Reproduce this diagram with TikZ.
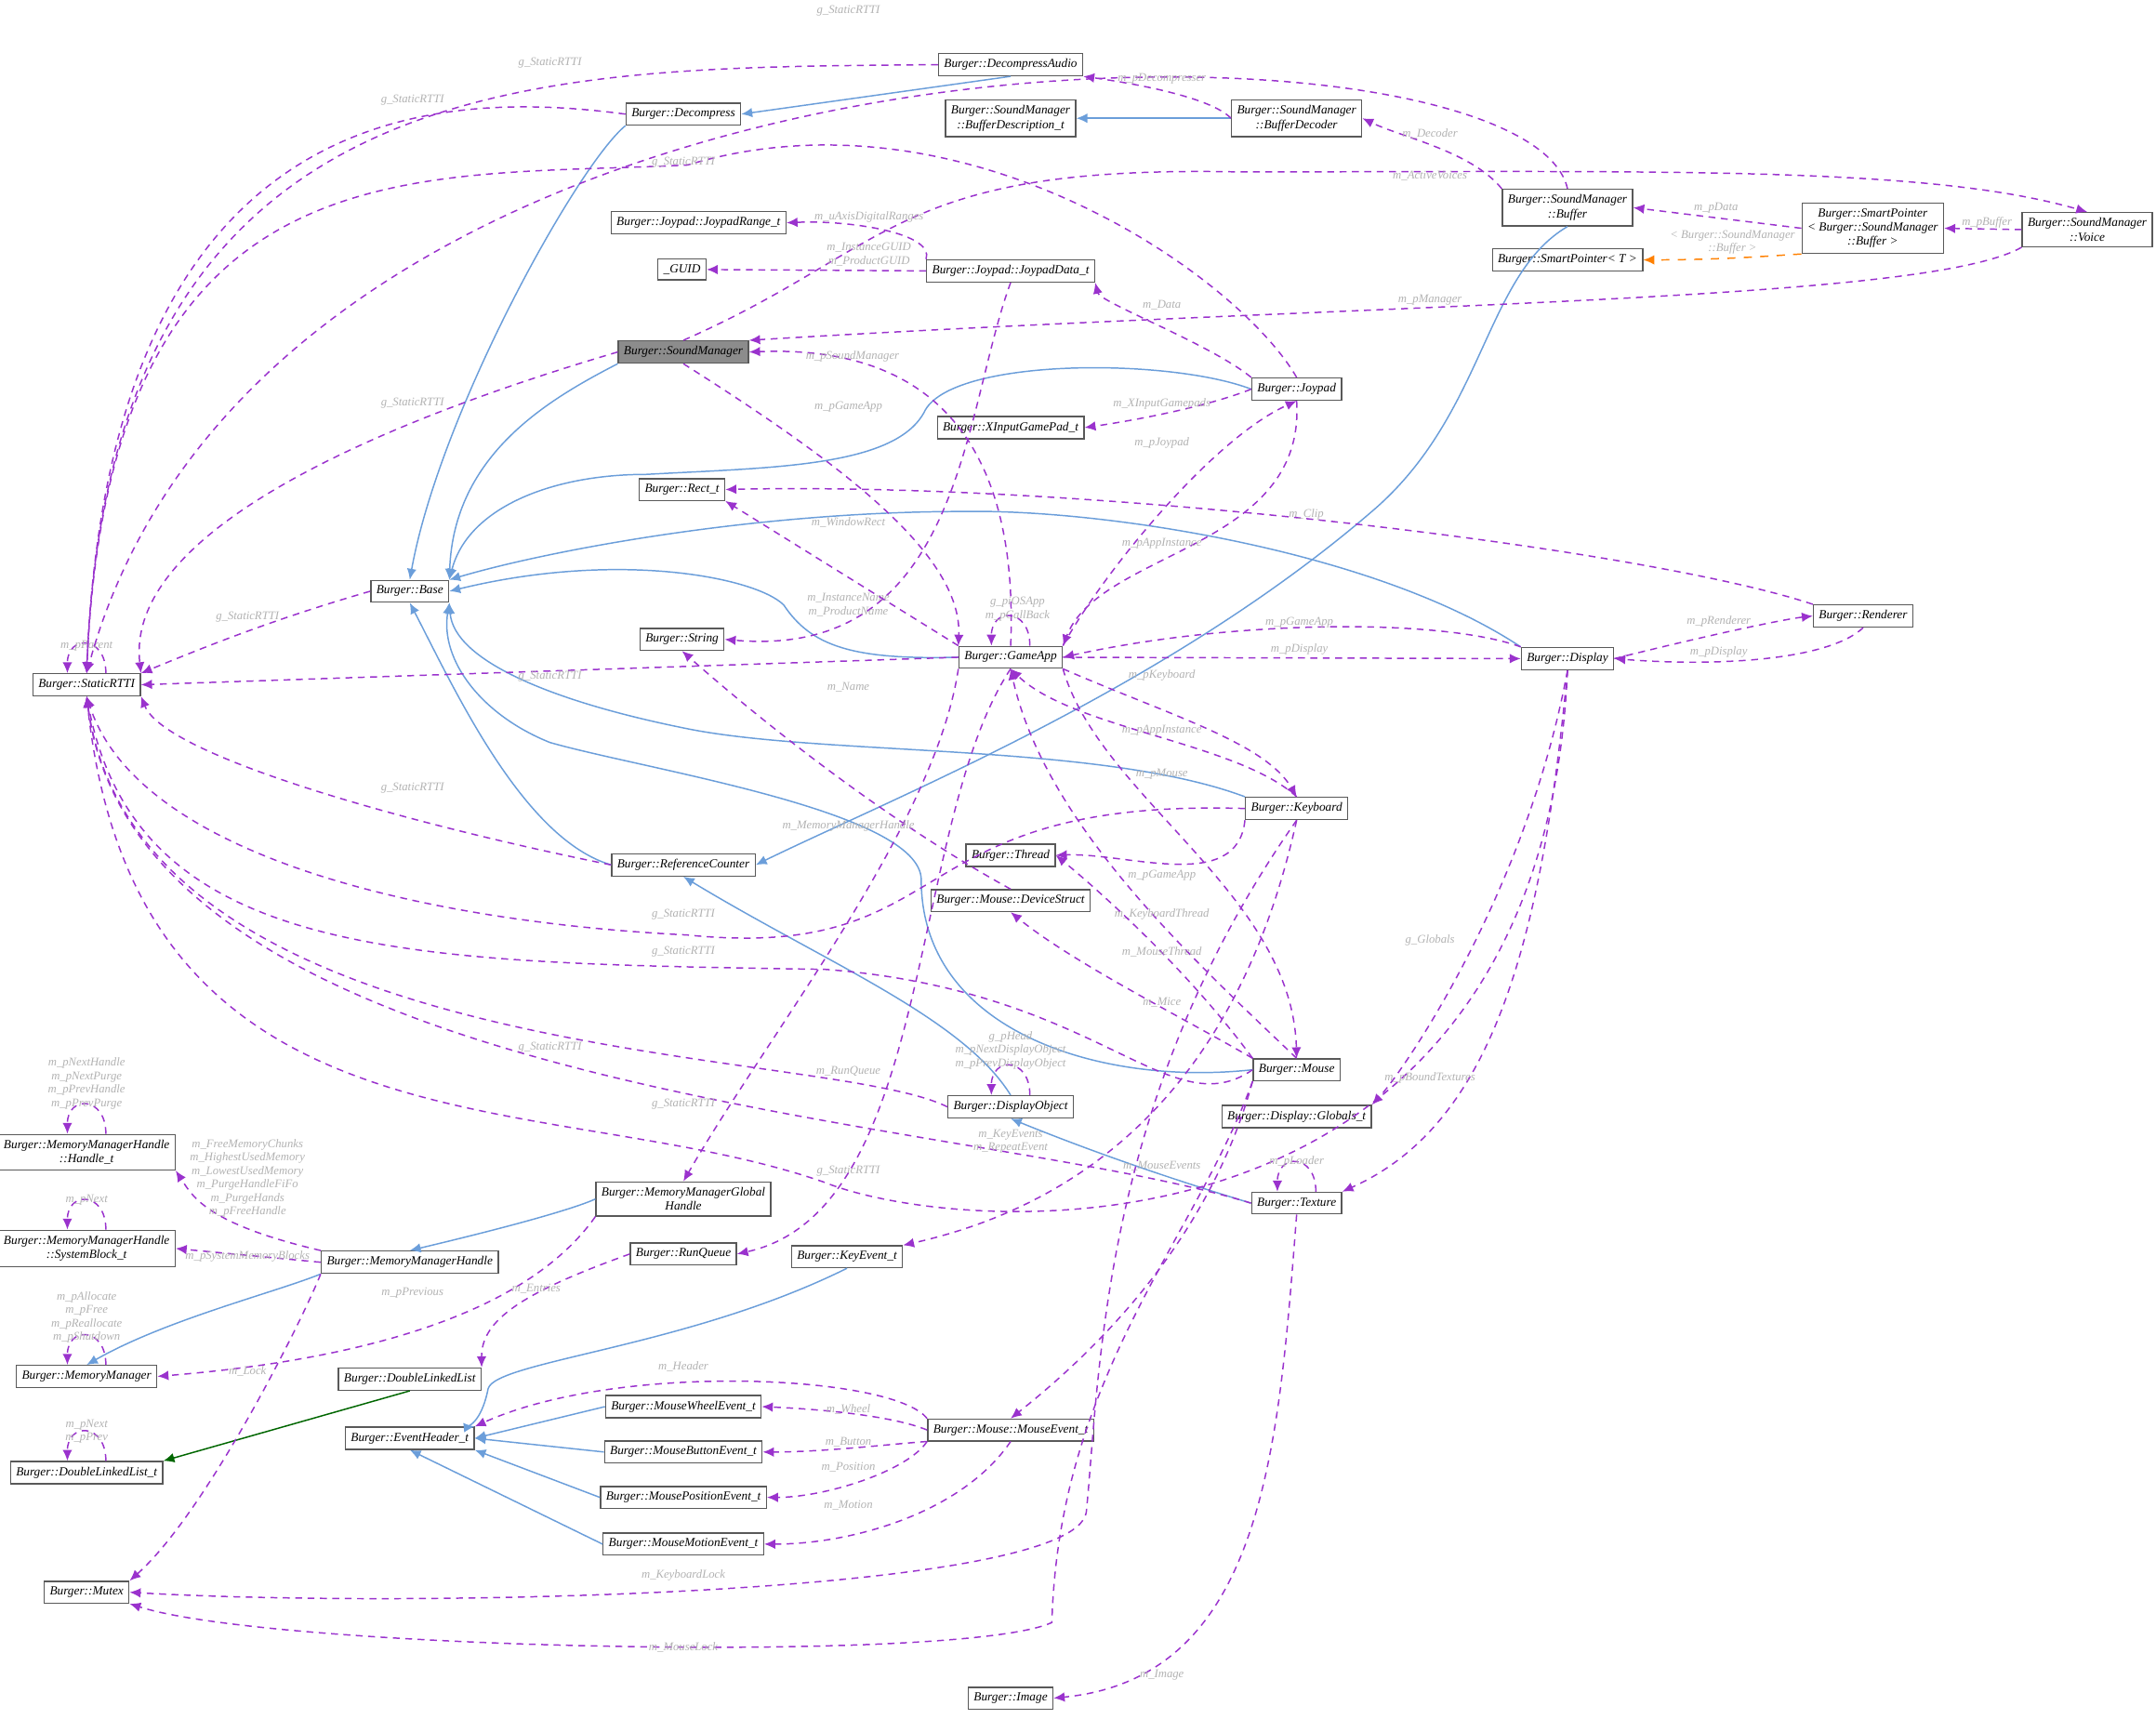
\documentclass[tikz,border=0pt]{standalone}
\usepackage{fontspec}
\setmainfont{Liberation Serif}
\usetikzlibrary{arrows.meta}
\begin{document}
\begin{tikzpicture}[x=0.5pt,y=-0.5pt,
 cls/.style={draw=black!65,line width=0.45pt,fill=white,inner sep=2pt,font=\fontsize{4.5}{5.2}\selectfont\itshape,align=center},
 dep/.style={dashed,dash pattern=on 2.5pt off 2pt,line width=0.5pt,-{Latex[length=4pt,width=3.5pt]}},
 inh/.style={draw=cyan!55!blue!60,line width=0.5pt,-{Latex[length=4pt,width=3.5pt]}},
 grn/.style={draw=green!40!black,line width=0.5pt,-{Latex[length=4pt,width=3.5pt]}},
 tmpl/.style={draw=orange,dashed,line width=0.5pt,-{Latex[length=4pt,width=3.5pt]}},
 lbl/.style={text=black!30,font=\fontsize{4.3}{4.9}\selectfont\itshape,align=center,inner sep=0pt}]
\useasboundingbox (0,0) rectangle (1568,1250);
\definecolor{vio}{HTML}{9A32CD}
\tikzset{dep/.append style={draw=vio,color=vio}}
\newcommand\selfloop[1]{\draw[dep] ([xshift=7pt]#1.north) .. controls +(0,-28) and +(0,-28) .. ([xshift=-7pt]#1.north);}
% nodes
\node[cls] (rtti) at (63,498) {Burger::StaticRTTI};
\node[cls] (dec) at (497,83) {Burger::Decompress};
\node[cls] (deca) at (735,47) {Burger::DecompressAudio};
\node[cls] (bdesc) at (735,86) {Burger::SoundManager\\::BufferDescription\_t};
\node[cls] (bdeco) at (943,86) {Burger::SoundManager\\::BufferDecoder};
\node[cls] (buf) at (1140,151) {Burger::SoundManager\\::Buffer};
\node[cls] (spb) at (1362,166) {Burger::SmartPointer\\< Burger::SoundManager\\::Buffer >};
\node[cls] (spt) at (1140,189) {Burger::SmartPointer< T >};
\node[cls] (voice) at (1518,167) {Burger::SoundManager\\::Voice};
\node[cls] (jrange) at (508,162) {Burger::Joypad::JoypadRange\_t};
\node[cls] (guid) at (496,196) {\_GUID};
\node[cls] (jdata) at (735,197) {Burger::Joypad::JoypadData\_t};
\node[cls,fill=black!45] (sm) at (497,256) {Burger::SoundManager};
\node[cls] (joy) at (943,283) {Burger::Joypad};
\node[cls] (xin) at (735,311) {Burger::XInputGamePad\_t};
\node[cls] (rect) at (496,356) {Burger::Rect\_t};
\node[cls] (base) at (298,430) {Burger::Base};
\node[cls] (str) at (496,465) {Burger::String};
\node[cls] (app) at (735,478) {Burger::GameApp};
\node[cls] (disp) at (1140,479) {Burger::Display};
\node[cls] (rend) at (1355,448) {Burger::Renderer};
\node[cls] (kbd) at (943,588) {Burger::Keyboard};
\node[cls] (ref) at (497,629) {Burger::ReferenceCounter};
\node[cls] (thr) at (735,622) {Burger::Thread};
\node[cls] (mds) at (735,655) {Burger::Mouse::DeviceStruct};
\node[cls] (mouse) at (943,778) {Burger::Mouse};
\node[cls] (dobj) at (735,805) {Burger::DisplayObject};
\node[cls] (glob) at (943,812) {Burger::Display::Globals\_t};
\node[cls] (tex) at (943,875) {Burger::Texture};
\node[cls] (hnd) at (63,838) {Burger::MemoryManagerHandle\\::Handle\_t};
\node[cls] (sysb) at (63,908) {Burger::MemoryManagerHandle\\::SystemBlock\_t};
\node[cls] (mmgh) at (497,872) {Burger::MemoryManagerGlobal\\Handle};
\node[cls] (mmh) at (298,918) {Burger::MemoryManagerHandle};
\node[cls] (rq) at (497,912) {Burger::RunQueue};
\node[cls] (kev) at (616,914) {Burger::KeyEvent\_t};
\node[cls] (mm) at (63,1001) {Burger::MemoryManager};
\node[cls] (dll) at (298,1003) {Burger::DoubleLinkedList};
\node[cls] (dllt) at (63,1071) {Burger::DoubleLinkedList\_t};
\node[cls] (evh) at (298,1046) {Burger::EventHeader\_t};
\node[cls] (mwe) at (497,1023) {Burger::MouseWheelEvent\_t};
\node[cls] (mbe) at (497,1056) {Burger::MouseButtonEvent\_t};
\node[cls] (mpe) at (497,1089) {Burger::MousePositionEvent\_t};
\node[cls] (mme) at (497,1123) {Burger::MouseMotionEvent\_t};
\node[cls] (mev) at (735,1040) {Burger::Mouse::MouseEvent\_t};
\node[cls] (mtx) at (63,1158) {Burger::Mutex};
\node[cls] (img) at (735,1235) {Burger::Image};
% inheritance
\draw[inh] (dec.south west) .. controls (420,120) and (320,300) .. (base.north);
\draw[inh] (deca.south) -- (dec.east);
\draw[inh] (bdeco.west) -- (bdesc.east);
\draw[inh] (sm.south west) .. controls (400,290) and (330,330) .. (base.north east);
\draw[inh] (joy.west) .. controls (850,260) and (690,260) .. (672,300) .. controls (650,340) and (560,340) .. (470,345) .. controls (400,345) and (340,370) .. (base.north east);
\draw[inh] (app.west) .. controls (620,480) and (590,470) .. (570,440) .. controls (550,420) and (450,400) .. (base.east);
\draw[inh] (disp.north west) .. controls (1000,400) and (800,370) .. (700,372) .. controls (550,372) and (400,400) .. (base.north east);
\draw[inh] (kbd.north west) .. controls (800,540) and (600,550) .. (500,530) .. controls (400,510) and (330,480) .. (base.south east);
\draw[inh] (ref.west) .. controls (380,610) and (330,500) .. (base.south);
\draw[inh] (mouse.west) .. controls (800,790) and (670,750) .. (670,640) .. controls (670,590) and (470,560) .. (400,540) .. controls (350,520) and (320,480) .. (base.south east);
\draw[inh] (buf.south) .. controls (1080,200) and (1080,300) .. (1000,370) .. controls (850,500) and (650,580) .. (ref.east);
\draw[inh] (dobj.north) .. controls (700,740) and (600,700) .. (ref.south);
\draw[inh] (tex.west) .. controls (860,860) and (800,840) .. (dobj.south);
\draw[inh] (mmgh.west) .. controls (420,878) and (380,890) .. (mmh.north);
\draw[inh] (mmh.south west) .. controls (200,940) and (120,960) .. (mm.north);
\draw[inh] (kev.south) .. controls (500,980) and (360,990) .. (355,1010) .. controls (350,1035) and (340,1038) .. (evh.north east);
\draw[inh] (mwe.west) -- (evh.east);
\draw[inh] (mbe.west) -- (evh.east);
\draw[inh] (mpe.west) -- (evh.south east);
\draw[inh] (mme.west) -- (evh.south);
\draw[grn] (dll.south) -- (dllt.north east);
\draw[tmpl] (spb.south west) .. controls (1300,185) and (1260,189) .. (spt.east);
\node[lbl] at (1260,176) {< Burger::SoundManager\\::Buffer >};
% StaticRTTI deps
\selfloop{rtti}
\node[lbl] at (63,470) {m\_pParent};
\draw[dep] (buf.north) .. controls (1110,0) and (200,-10) .. (rtti.north);
\node[lbl] at (617,8) {g\_StaticRTTI};
\draw[dep] (deca.west) .. controls (400,50) and (80,40) .. (rtti.north);
\node[lbl] at (400,46) {g\_StaticRTTI};
\draw[dep] (dec.west) .. controls (320,65) and (80,70) .. (rtti.north);
\node[lbl] at (300,73) {g\_StaticRTTI};
\draw[dep] (joy.north) .. controls (900,200) and (700,60) .. (500,120) .. controls (300,130) and (80,100) .. (rtti.north);
\node[lbl] at (497,118) {g\_StaticRTTI};
\draw[dep] (sm.west) .. controls (300,300) and (90,380) .. (rtti.north east);
\node[lbl] at (300,293) {g\_StaticRTTI};
\draw[dep] (base.west) .. controls (200,450) and (150,470) .. (rtti.north east);
\node[lbl] at (180,449) {g\_StaticRTTI};
\draw[dep] (app.west) -- (rtti.east);
\node[lbl] at (400,492) {g\_StaticRTTI};
\draw[dep] (ref.west) .. controls (300,600) and (120,550) .. (rtti.south east);
\node[lbl] at (300,573) {g\_StaticRTTI};
\draw[dep] (kbd.west) .. controls (650,580) and (700,700) .. (500,680) .. controls (300,670) and (100,620) .. (rtti.south);
\node[lbl] at (497,665) {g\_StaticRTTI};
\draw[dep] (mouse.west) .. controls (850,820) and (800,720) .. (600,705) .. controls (300,700) and (100,700) .. (rtti.south);
\node[lbl] at (497,692) {g\_StaticRTTI};
\draw[dep] (dobj.west) .. controls (600,760) and (100,780) .. (rtti.south);
\node[lbl] at (400,762) {g\_StaticRTTI};
\draw[dep] (tex.west) .. controls (700,810) and (100,800) .. (rtti.south);
\node[lbl] at (497,803) {g\_StaticRTTI};
\draw[dep] (disp.south) .. controls (1120,930) and (700,900) .. (600,860) .. controls (400,790) and (100,850) .. (rtti.south);
\node[lbl] at (617,852) {g\_StaticRTTI};
% sound
\draw[dep] (bdeco.west) .. controls (880,70) and (820,60) .. (deca.south east);
\node[lbl] at (845,57) {m\_pDecompresser};
\draw[dep] (buf.north west) .. controls (1070,110) and (1020,100) .. (bdeco.east);
\node[lbl] at (1040,97) {m\_Decoder};
\draw[dep] (spb.west) -- (buf.east);
\node[lbl] at (1248,151) {m\_pData};
\draw[dep] (voice.west) -- (spb.east);
\node[lbl] at (1445,162) {m\_pBuffer};
\draw[dep] (sm.north) .. controls (650,180) and (650,120) .. (900,125) .. controls (1200,125) and (1400,120) .. (voice.north);
\node[lbl] at (1040,128) {m\_ActiveVoices};
\draw[dep] (voice.south west) .. controls (1400,220) and (1000,220) .. (sm.north east);
\node[lbl] at (1040,218) {m\_pManager};
% joypad
\draw[dep] (jdata.north west) .. controls (680,170) and (620,160) .. (jrange.east);
\node[lbl] at (632,158) {m\_uAxisDigitalRanges};
\draw[dep] (jdata.west) -- (guid.east);
\node[lbl] at (632,185) {m\_InstanceGUID\\m\_ProductGUID};
\draw[dep] (joy.north west) .. controls (880,250) and (800,220) .. (jdata.south east);
\node[lbl] at (845,222) {m\_Data};
\draw[dep] (joy.west) .. controls (880,295) and (830,305) .. (xin.east);
\node[lbl] at (845,294) {m\_XInputGamepads};
\draw[dep] (app.north) .. controls (740,350) and (700,250) .. (sm.east);
\node[lbl] at (620,259) {m\_pSoundManager};
\draw[dep] (sm.south) .. controls (600,330) and (700,400) .. (app.north west);
\node[lbl] at (617,296) {m\_pGameApp};
\draw[dep] (app.north east) .. controls (800,420) and (880,320) .. (joy.south);
\node[lbl] at (845,322) {m\_pJoypad};
\draw[dep] (joy.south) .. controls (950,400) and (800,400) .. (app.north east);
\node[lbl] at (845,395) {m\_pAppInstance};
\draw[dep] (jdata.south) .. controls (700,300) and (700,480) .. (str.east);
\node[lbl] at (617,440) {m\_InstanceName\\m\_ProductName};
\draw[dep] (mds.north) .. controls (650,600) and (560,530) .. (str.south);
\node[lbl] at (617,500) {m\_Name};
% rect / display
\draw[dep] (rend.north west) .. controls (1200,400) and (800,350) .. (rect.east);
\node[lbl] at (950,374) {m\_Clip};
\draw[dep] (app.north west) -- (rect.south east);
\node[lbl] at (617,380) {m\_WindowRect};
\selfloop{app}
\node[lbl] at (740,443) {g\_piOSApp\\m\_pCallBack};
\draw[dep] (disp.north west) .. controls (1050,450) and (900,450) .. (app.east);
\node[lbl] at (945,453) {m\_pGameApp};
\draw[dep] (app.east) -- (disp.west);
\node[lbl] at (945,472) {m\_pDisplay};
\draw[dep] (disp.east) .. controls (1250,460) and (1300,450) .. (rend.west);
\node[lbl] at (1250,452) {m\_pRenderer};
\draw[dep] (rend.south) .. controls (1330,480) and (1250,485) .. (disp.east);
\node[lbl] at (1250,474) {m\_pDisplay};
\draw[dep] (app.south east) .. controls (850,520) and (920,540) .. (kbd.north);
\node[lbl] at (845,491) {m\_pKeyboard};
\draw[dep] (kbd.north) .. controls (900,540) and (780,530) .. (app.south);
\node[lbl] at (845,531) {m\_pAppInstance};
\draw[dep] (app.south east) .. controls (800,580) and (940,650) .. (mouse.north);
\node[lbl] at (845,563) {m\_pMouse};
\draw[dep] (mouse.north) .. controls (870,700) and (760,600) .. (app.south);
\node[lbl] at (845,637) {m\_pGameApp};
\draw[dep] (app.south west) .. controls (680,600) and (560,750) .. (mmgh.north);
\node[lbl] at (617,601) {m\_MemoryManagerHandle};
\draw[dep] (app.south) .. controls (660,600) and (680,880) .. (rq.east);
\node[lbl] at (617,779) {m\_RunQueue};
\draw[dep] (kbd.south west) .. controls (900,650) and (820,620) .. (thr.east);
\node[lbl] at (845,665) {m\_KeyboardThread};
\draw[dep] (mouse.north west) .. controls (860,700) and (790,640) .. (thr.east);
\node[lbl] at (845,692) {m\_MouseThread};
\draw[dep] (mouse.north west) .. controls (860,740) and (780,700) .. (mds.south);
\node[lbl] at (845,729) {m\_Mice};
\selfloop{dobj}
\node[lbl] at (735,764) {g\_pHead\\m\_pNextDisplayObject\\m\_pPrevDisplayObject};
\draw[dep] (disp.south) .. controls (1110,650) and (1020,780) .. (glob.north east);
\node[lbl] at (1040,684) {g\_Globals};
\draw[dep] (disp.south) .. controls (1120,700) and (1080,820) .. (tex.north east);
\node[lbl] at (1040,784) {m\_pBoundTextures};
\selfloop{tex}
\node[lbl] at (943,845) {m\_pLoader};
\draw[dep] (kbd.south) .. controls (920,700) and (860,860) .. (kev.north east);
\node[lbl] at (735,830) {m\_KeyEvents\\m\_RepeatEvent};
\draw[dep] (mouse.south west) .. controls (880,900) and (800,980) .. (mev.north);
\node[lbl] at (845,848) {m\_MouseEvents};
\draw[dep] (tex.south) .. controls (930,1050) and (920,1220) .. (img.east);
\node[lbl] at (845,1218) {m\_Image};
\draw[dep] (kbd.south) .. controls (800,800) and (800,1000) .. (790,1100) .. controls (780,1160) and (300,1170) .. (mtx.east);
\node[lbl] at (497,1146) {m\_KeyboardLock};
\draw[dep] (mouse.south west) .. controls (870,900) and (770,1000) .. (765,1180) .. controls (700,1210) and (200,1200) .. (mtx.south east);
\node[lbl] at (497,1198) {m\_MouseLock};
% memory
\selfloop{hnd}
\node[lbl] at (63,788) {m\_pNextHandle\\m\_pNextPurge\\m\_pPrevHandle\\m\_pPrevPurge};
\draw[dep] (mmh.north west) .. controls (150,890) and (140,870) .. (hnd.south east);
\node[lbl] at (180,857) {m\_FreeMemoryChunks\\m\_HighestUsedMemory\\m\_LowestUsedMemory\\m\_PurgeHandleFiFo\\m\_PurgeHands\\m\_pFreeHandle};
\selfloop{sysb}
\node[lbl] at (63,873) {m\_pNext};
\draw[dep] (mmh.west) -- (sysb.east);
\node[lbl] at (180,914) {m\_pSystemMemoryBlocks};
\selfloop{mm}
\node[lbl] at (63,958) {m\_pAllocate\\m\_pFree\\m\_pReallocate\\m\_pShutdown};
\draw[dep] (mmgh.south west) .. controls (380,960) and (250,990) .. (mm.east);
\node[lbl] at (300,940) {m\_pPrevious};
\draw[dep] (mmh.south west) .. controls (220,960) and (150,1100) .. (mtx.north east);
\node[lbl] at (180,997) {m\_Lock};
\draw[dep] (rq.west) .. controls (380,940) and (350,960) .. (dll.north east);
\node[lbl] at (390,937) {m\_Entries};
\selfloop{dllt}
\node[lbl] at (63,1041) {m\_pNext\\m\_pPrev};
\draw[dep] (mev.north west) .. controls (650,1000) and (450,990) .. (evh.north east);
\node[lbl] at (497,994) {m\_Header};
\draw[dep] (mev.west) .. controls (650,1030) and (600,1025) .. (mwe.east);
\node[lbl] at (617,1025) {m\_Wheel};
\draw[dep] (mev.south west) .. controls (650,1050) and (600,1056) .. (mbe.east);
\node[lbl] at (617,1049) {m\_Button};
\draw[dep] (mev.south west) .. controls (660,1070) and (600,1089) .. (mpe.east);
\node[lbl] at (617,1067) {m\_Position};
\draw[dep] (mev.south) .. controls (700,1100) and (620,1123) .. (mme.east);
\node[lbl] at (617,1095) {m\_Motion};
\end{tikzpicture}
\end{document}
